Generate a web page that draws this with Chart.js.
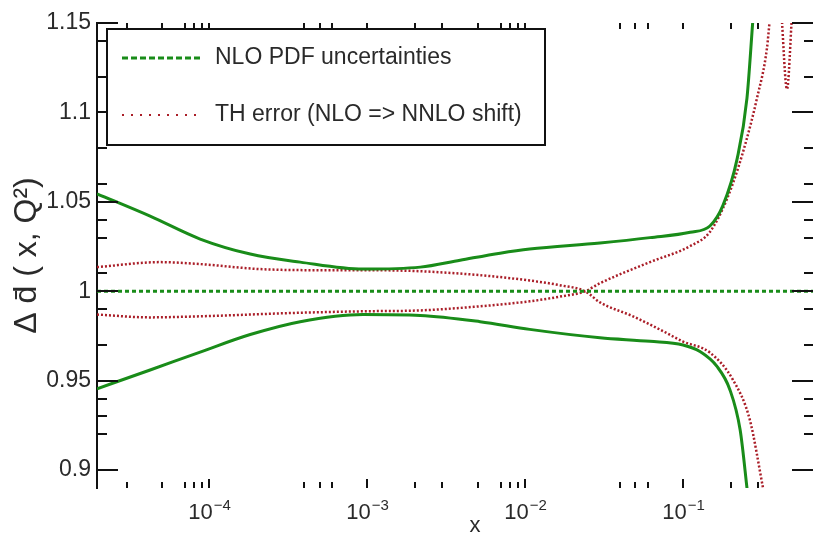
<!DOCTYPE html>
<html>
<head>
<meta charset="utf-8">
<script src="https://cdn.jsdelivr.net/npm/chart.js@4"></script>
<style>
  html, body { margin: 0; padding: 0; background: #fff; overflow: hidden; }
  #wrap { width: 813px; height: 534px; position: relative; }
</style>
</head>
<body>
<div id="wrap"><canvas id="myChart"></canvas></div>
<script>
// axis ticks
const xMajor = [1e-4, 1e-3, 1e-2, 1e-1];
const xMinor = [3e-5, 5e-5, 7e-5, 8e-5, 9e-5, 4e-4, 5e-4, 6e-4, 2e-3, 3e-3, 5e-3, 7e-3, 8e-3, 9e-3, 4e-2, 5e-2, 6e-2, 0.2, 0.3];
const yMajor = [0.9, 0.95, 1, 1.05, 1.1, 1.15];
const yMinor = [0.92, 0.93, 0.94, 0.97, 0.99, 1.01, 1.03, 1.04, 1.06, 1.08, 1.12, 1.14];
const legendLabels = ['NLO PDF uncertainties', 'TH error (NLO => NNLO shift)'];

// NLO PDF uncertainty band (green)
const pdfUpX = [1.95e-5, 4.23e-5, 8.77e-5, 1.82e-4, 3.77e-4, 9.44e-4, 2.17e-3, 3.88e-3, 6.95e-3, 1.07e-2, 2.98e-2, 6.18e-2, 0.111, 0.148, 0.179, 0.220, 0.254, 0.277];
const pdfUpY = [1.0545, 1.042, 1.0292, 1.0208, 1.0163, 1.0124, 1.0135, 1.0174, 1.0213, 1.0236, 1.027, 1.030, 1.033, 1.0365, 1.048, 1.074, 1.108, 1.152];
const pdfLoX = [1.95e-5, 4.23e-5, 8.77e-5, 1.82e-4, 3.77e-4, 9.44e-4, 2.17e-3, 5.19e-3, 1.07e-2, 2.98e-2, 6.18e-2, 0.1, 0.128, 0.164, 0.198, 0.230, 0.254, 0.265];
const pdfLoY = [0.9455, 0.956, 0.966, 0.9758, 0.983, 0.987, 0.9865, 0.983, 0.9787, 0.974, 0.972, 0.970, 0.9663, 0.958, 0.945, 0.9224, 0.890, 0.875];
const centralX = [1.95e-5, 0.665];
const centralY = [1, 1];

// theory error NLO => NNLO shift (red)
const thAX = [1.95e-5, 4.9e-5, 8.77e-5, 2.1e-4, 5.04e-4, 9.44e-4, 2.17e-3, 5.19e-3, 1.07e-2, 1.66e-2, 2.4e-2, 2.98e-2, 4.82e-2, 7.14e-2, 0.1, 0.148, 0.207, 0.265, 0.321];
const thAY = [1.0135, 1.0163, 1.0152, 1.0124, 1.0118, 1.0118, 1.0112, 1.009, 1.006, 1.0034, 1.0, 0.9938, 0.986, 0.9786, 0.9719, 0.9657, 0.9505, 0.928, 0.890];
const thBX = [1.95e-5, 4.23e-5, 8.77e-5, 3.77e-4, 9.44e-4, 2.17e-3, 5.19e-3, 1.07e-2, 1.66e-2, 2.4e-2, 2.98e-2, 6.18e-2, 0.111, 0.148, 0.19, 0.24, 0.294, 0.34, 0.355];
const thBY = [0.987, 0.9854, 0.986, 0.988, 0.9888, 0.9893, 0.9916, 0.9944, 0.997, 1.0, 1.0045, 1.0163, 1.0253, 1.0332, 1.0517, 1.078, 1.108, 1.136, 1.153];
const thSpikeX = [0.42, 0.455, 0.49];
const thSpikeY = [1.155, 1.113, 1.155];

const GREEN = 'rgb(25,140,25)';
const RED = 'rgb(170,30,40)';
const TEXT = '#2a2a2a';
const FONT = "'Liberation Sans', Arial, sans-serif";

function pts(xs, ys) {
    return xs.map((x, i) => ({ x: x, y: ys[i] }));
}

// inward ticks, x labels, legend box and x title
const framePlugin = {
    id: 'frame',
    afterDraw(chart) {
        const ctx = chart.ctx;
        const a = chart.chartArea;
        const xs = chart.scales.x;
        const ys = chart.scales.y;
        ctx.save();
        ctx.strokeStyle = '#111';
        ctx.lineWidth = 2;
        ctx.beginPath();
        yMajor.forEach(v => {
            const y = Math.round(ys.getPixelForValue(v));
            ctx.moveTo(a.left, y); ctx.lineTo(a.left + 21, y);
            ctx.moveTo(a.right, y); ctx.lineTo(a.right - 21, y);
        });
        yMinor.forEach(v => {
            const y = Math.round(ys.getPixelForValue(v));
            ctx.moveTo(a.left, y); ctx.lineTo(a.left + 10, y);
            ctx.moveTo(a.right, y); ctx.lineTo(a.right - 9, y);
        });
        xMajor.forEach(v => {
            const x = Math.round(xs.getPixelForValue(v));
            ctx.moveTo(x, a.bottom); ctx.lineTo(x, a.bottom - 9);
            ctx.moveTo(x, a.top); ctx.lineTo(x, a.top + 6);
        });
        xMinor.forEach(v => {
            const x = Math.round(xs.getPixelForValue(v));
            ctx.moveTo(x, a.bottom); ctx.lineTo(x, a.bottom - 6);
            ctx.moveTo(x, a.top); ctx.lineTo(x, a.top + 6);
        });
        ctx.stroke();

        // x tick labels 10^n with a real superscript
        ctx.fillStyle = TEXT;
        ctx.textAlign = 'left';
        ctx.textBaseline = 'alphabetic';
        xMajor.forEach(v => {
            const px = xs.getPixelForValue(v);
            const ex = '\u2212' + Math.abs(Math.round(Math.log10(v)));
            ctx.font = '22px ' + FONT;
            const w1 = ctx.measureText('10').width;
            ctx.font = '15px ' + FONT;
            const w2 = ctx.measureText(ex).width;
            const x0 = px - (w1 + w2) / 2;
            ctx.font = '22px ' + FONT;
            ctx.fillText('10', x0, a.bottom + 31);
            ctx.font = '15px ' + FONT;
            ctx.fillText(ex, x0 + w1 + 1, a.bottom + 22);
        });

        // legend
        const bx = a.left + 10, by = a.top + 6, bw = 438, bh = 116;
        ctx.fillStyle = '#fff';
        ctx.fillRect(bx, by, bw, bh);
        ctx.strokeStyle = '#111';
        ctx.lineWidth = 2;
        ctx.strokeRect(bx, by, bw, bh);

        ctx.lineWidth = 3;
        ctx.strokeStyle = GREEN;
        ctx.setLineDash([6, 3]);
        ctx.beginPath(); ctx.moveTo(bx + 15, by + 29); ctx.lineTo(bx + 95, by + 29); ctx.stroke();
        ctx.lineWidth = 2;
        ctx.strokeStyle = RED;
        ctx.setLineDash([2, 7]);
        ctx.beginPath(); ctx.moveTo(bx + 15, by + 86); ctx.lineTo(bx + 95, by + 86); ctx.stroke();
        ctx.setLineDash([]);

        ctx.fillStyle = TEXT;
        ctx.font = '23px ' + FONT;
        ctx.textBaseline = 'middle';
        ctx.fillText(legendLabels[0], bx + 108, by + 29);
        ctx.fillText(legendLabels[1], bx + 108, by + 86);

        ctx.font = '22px ' + FONT;
        ctx.textAlign = 'center';
        ctx.textBaseline = 'alphabetic';
        ctx.fillText('x', (a.left + a.right) / 2 + 20, chart.height - 2);
        ctx.restore();
    }
};

(function(){
    const grafico = document.getElementById('myChart');

    const config = {
        type: 'line',
        data: {
            datasets: [
                { data: pts(pdfUpX, pdfUpY), borderColor: GREEN, borderWidth: 3, order: 1 },
                { data: pts(pdfLoX, pdfLoY), borderColor: GREEN, borderWidth: 3, order: 1 },
                { data: pts(centralX, centralY), borderColor: GREEN, borderWidth: 3, borderDash: [4, 3], tension: 0, order: 2 },
                { data: pts(thAX, thAY), borderColor: RED, borderWidth: 2.5, borderDash: [2, 2], order: 3 },
                { data: pts(thBX, thBY), borderColor: RED, borderWidth: 2.5, borderDash: [2, 2], order: 3 },
                { data: pts(thSpikeX, thSpikeY), borderColor: RED, borderWidth: 2.5, borderDash: [2, 2], tension: 0, order: 3 }
            ]
        },
        options: {
            responsive: true,
            maintainAspectRatio: false,
            animation: false,
            layout: { padding: { top: 23, right: 0, left: 0, bottom: 0 } },
            elements: {
                point: { radius: 0 },
                line: { cubicInterpolationMode: 'monotone', fill: false }
            },
            plugins: { legend: { display: false }, tooltip: { enabled: false } },
            scales: {
                x: {
                    type: 'logarithmic',
                    min: 1.95e-5,
                    max: 0.665,
                    border: { display: false },
                    grid: { display: false, drawTicks: false },
                    afterBuildTicks: s => { s.ticks = xMajor.map(v => ({ value: v })); },
                    afterFit: s => { s.height = 46; },
                    ticks: { display: false }
                },
                y: {
                    min: 0.89,
                    max: 1.15,
                    border: { display: true, color: '#111', width: 2 },
                    grid: { display: false, drawTicks: false },
                    afterBuildTicks: s => { s.ticks = yMajor.map(v => ({ value: v })); },
                    afterFit: s => { s.width = 97; },
                    ticks: {
                        padding: 6,
                        color: TEXT,
                        font: { family: FONT, size: 23 },
                        callback: v => String(v)
                    },
                    title: {
                        display: true,
                        text: '\u0394 d\u0304 ( x, Q\u00B2)',
                        color: TEXT,
                        font: { family: FONT, size: 32 },
                        padding: { top: 8, bottom: 0 }
                    }
                }
            }
        },
        plugins: [framePlugin]
    };

    new Chart(grafico, config);
})();
</script>
</body>
</html>
